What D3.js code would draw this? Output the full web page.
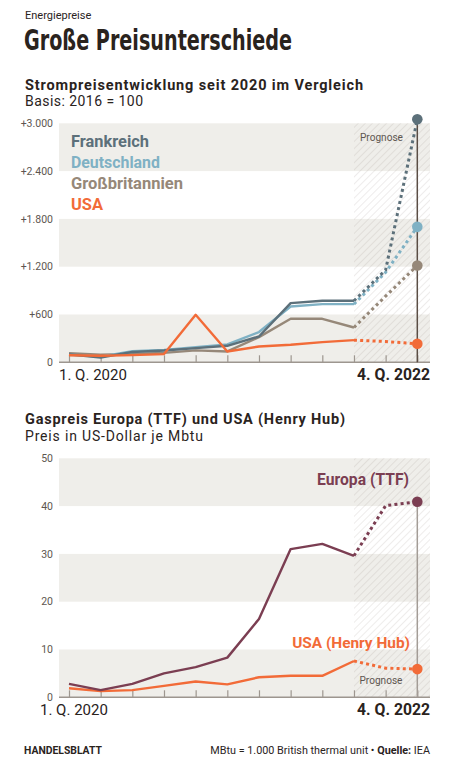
<!DOCTYPE html>
<html>
<head>
<meta charset="utf-8">
<script src="https://cdn.jsdelivr.net/npm/d3@7"></script>
<style>
  html, body { margin: 0; padding: 0; background: #fff; }
  svg { display: block; }
  text { font-family: Roboto, "Liberation Sans", sans-serif; }
</style>
</head>
<body>
<div id="chart"></div>
<script>
// ---------- DATA ----------
const quarters = ["1. Q. 2020","2. Q. 2020","3. Q. 2020","4. Q. 2020",
                  "1. Q. 2021","2. Q. 2021","3. Q. 2021","4. Q. 2021",
                  "1. Q. 2022","2. Q. 2022","3. Q. 2022","4. Q. 2022"];
const forecastFrom = "2. Q. 2022";

// Strompreise, Basis 2016 = 100
const frankreich      = [100, 60, 130, 148, 178, 207, 324, 743, 772, 772, 1160, 3050];
const deutschland     = [ 95, 72, 140, 155, 190, 225, 380, 700, 730, 730, 1130, 1700];
const grossbritannien = [115, 95, 105, 118, 150, 136, 316, 546, 546, 437,  830, 1215];
const usaStrom        = [ 88, 82,  90, 103, 596, 136, 198, 220, 253, 278,  261,  232];
const stromTicks      = [0, 600, 1200, 1800, 2400, 3000];
const stromTickLabels = ["0", "+600", "+1.200", "+1.800", "+2.400", "+3.000"];
const stromNames      = ["Frankreich", "Deutschland", "Großbritannien", "USA"];

// Gaspreise in US-Dollar je Mbtu
const europaTTF  = [2.8, 1.5, 2.8, 5.0, 6.3, 8.3, 16.4, 31.0, 32.1, 29.6, 40.1, 40.9];
const henryHub   = [1.9, 1.3, 1.5, 2.4, 3.3, 2.7,  4.2,  4.5,  4.5,  7.6,  6.1,  5.9];
const gasTicks      = [0, 10, 20, 30, 40, 50];
const gasTickLabels = ["0", "10", "20", "30", "40", "50"];
const gasNames      = ["Europa (TTF)", "USA (Henry Hub)"];

// ---------- STYLE ----------
const C = {
  text: "#2a231d", tick: "#5e5650", band: "#efeeea", axis: "#9d968f",
  fr: "#5c707a", de: "#7fb1c4", gb: "#968879", us: "#f26b38", eu: "#7b3e52"
};

const W = 457, H = 762;
const svg = d3.select("#chart").append("svg").attr("width", W).attr("height", H);

function fit(sel, w) {
  const l = sel.node().getComputedTextLength();
  sel.attr("font-size", parseFloat(sel.attr("font-size")) * w / l);
  return sel;
}

// hatch pattern
const defs = svg.append("defs");
const pat = defs.append("pattern").attr("id", "hatch").attr("patternUnits", "userSpaceOnUse")
  .attr("width", 5).attr("height", 5).attr("patternTransform", "rotate(45)");
pat.append("line").attr("x1", 0).attr("y1", 0).attr("x2", 0).attr("y2", 5)
  .attr("stroke", "rgba(140,130,120,0.15)").attr("stroke-width", 2);

// ---------- HEADER ----------
svg.append("text").attr("x", 25).attr("y", 18.5).attr("font-size", 11).attr("fill", C.text)
  .text("Energiepreise");
svg.append("text").attr("x", 24).attr("y", 50)
  .attr("font-size", 29).attr("font-weight", 700).attr("fill", C.text)
  .style("font-family", "'Liberation Sans Narrow', 'DejaVu Sans Condensed', sans-serif")
  .style("font-stretch", "condensed")
  .attr("textLength", 268).attr("lengthAdjust", "spacingAndGlyphs")
  .text("Große Preisunterschiede");

svg.append("text").attr("x", 25).attr("y", 89.5).attr("font-size", 14.5).attr("font-weight", 700)
  .attr("fill", C.text).attr("textLength", 338).attr("lengthAdjust", "spacing")
  .text("Strompreisentwicklung seit 2020 im Vergleich");
svg.append("text").attr("x", 25).attr("y", 105.5).attr("font-size", 14).attr("fill", C.text)
  .attr("textLength", 118).attr("lengthAdjust", "spacing")
  .text("Basis: 2016 = 100");

// ---------- generic chart ----------
function drawChart(opt) {
  const g = svg.append("g");
  const x = d3.scalePoint().domain(quarters).range([69, 417.3]);
  const y = d3.scaleLinear().domain([opt.ticks[0], opt.ticks[opt.ticks.length - 1]])
    .range([opt.y0, opt.y1]);
  const left = 59, right = 430;

  // bands
  for (let i = 0; i + 1 < opt.ticks.length; i += 2) {
    g.append("rect").attr("x", left).attr("width", right - left)
      .attr("y", y(opt.ticks[i + 1])).attr("height", y(opt.ticks[i]) - y(opt.ticks[i + 1]))
      .attr("fill", C.band);
  }
  // forecast hatch
  g.append("rect").attr("x", x(forecastFrom)).attr("width", right - x(forecastFrom))
    .attr("y", y.range()[1]).attr("height", y.range()[0] - y.range()[1])
    .attr("fill", "url(#hatch)");

  // y axis labels
  const ya = g.append("g").attr("transform", `translate(${left},0)`)
    .call(d3.axisLeft(y).tickValues(opt.ticks).tickSize(0).tickPadding(6)
      .tickFormat((d, i) => opt.tickLabels[i]));
  ya.select(".domain").remove();
  ya.selectAll("text").attr("fill", C.tick).attr("font-size", 10.5)
    .style("font-family", "Roboto, sans-serif").attr("dy", "0.3em");

  // x axis ticks
  const xa = g.append("g").attr("transform", `translate(0,${y(0)})`)
    .call(d3.axisBottom(x).tickSize(-7).tickFormat(""));
  xa.select(".domain").remove();
  xa.selectAll("line").attr("stroke", C.axis).attr("stroke-width", 1.2);
  g.append("line").attr("x1", left).attr("x2", right).attr("y1", y(0)).attr("y2", y(0))
    .attr("stroke", C.axis).attr("stroke-width", 1.5);

  // x labels
  fit(g.append("text").attr("x", opt.firstLabelX).attr("y", y(0) + 18).attr("font-size", 15)
    .attr("fill", C.text).text(quarters[0]), 68);
  fit(g.append("text").attr("x", right).attr("y", y(0) + 18).attr("font-size", 15)
    .attr("font-weight", 700).attr("text-anchor", "end").attr("fill", C.text)
    .text(quarters[quarters.length - 1]), 73);

  // vertical line at last quarter
  const last = quarters[quarters.length - 1];
  g.append("line").attr("x1", x(last)).attr("x2", x(last))
    .attr("y1", y(opt.vlineTop)).attr("y2", y(0))
    .attr("stroke", opt.vlineColor).attr("stroke-width", 1.5);

  const fi = quarters.indexOf(forecastFrom);
  const line = d3.line().x((d, i) => x(quarters[i])).y(d => y(d)).defined(d => d != null);
  opt.series.forEach(s => {
    const solid = s.values.map((v, i) => i <= fi ? v : null);
    const dotted = s.values.map((v, i) => i >= fi ? v : null);
    g.append("path").attr("d", line(solid)).attr("fill", "none").attr("stroke", s.color)
      .attr("stroke-width", 2.4).attr("stroke-linejoin", "round");
    g.append("path").attr("d", line(dotted)).attr("fill", "none").attr("stroke", s.color)
      .attr("stroke-width", 3).attr("stroke-dasharray", "3,3.2");
    g.append("circle").attr("cx", x(last)).attr("cy", y(s.values[s.values.length - 1]))
      .attr("r", 5.3).attr("fill", s.color);
  });

  // prognose label
  fit(g.append("text").attr("x", opt.progX).attr("y", opt.progY).attr("text-anchor", "middle")
    .attr("font-size", 10).attr("fill", C.tick).text("Prognose"), 43);
  return { x, y, g };
}

// ---------- TOP CHART ----------
const stromChart = drawChart({
  ticks: stromTicks, tickLabels: stromTickLabels, y0: 362.3, y1: 123.3,
  firstLabelX: 59, vlineTop: frankreich[11], vlineColor: "#5a4d44",
  progX: 381.5, progY: 141,
  series: [
    { values: grossbritannien, color: C.gb },
    { values: deutschland, color: C.de },
    { values: frankreich, color: C.fr },
    { values: usaStrom, color: C.us }
  ]
});

// legend
const legColors = [C.fr, C.de, C.gb, C.us];
const legWidths = [78, 89, 112, 32];
stromNames.forEach((n, i) => {
  fit(svg.append("text").attr("x", 71).attr("y", 146.5 + i * 21).attr("font-size", 14.5)
    .attr("font-weight", 700).attr("fill", legColors[i]).text(n), legWidths[i]);
});

// ---------- BOTTOM HEADER ----------
svg.append("text").attr("x", 25).attr("y", 424).attr("font-size", 14.5).attr("font-weight", 700)
  .attr("fill", C.text).attr("textLength", 320).attr("lengthAdjust", "spacing")
  .text("Gaspreis Europa (TTF) und USA (Henry Hub)");
svg.append("text").attr("x", 25).attr("y", 440.5).attr("font-size", 14).attr("fill", C.text)
  .attr("textLength", 178).attr("lengthAdjust", "spacing")
  .text("Preis in US-Dollar je Mbtu");

// ---------- BOTTOM CHART ----------
const gasChart = drawChart({
  ticks: gasTicks, tickLabels: gasTickLabels, y0: 697.3, y1: 458.3,
  firstLabelX: 40, vlineTop: europaTTF[11], vlineColor: "#a39c96",
  progX: 381, progY: 684,
  series: [
    { values: henryHub, color: C.us },
    { values: europaTTF, color: C.eu }
  ]
});
fit(svg.append("text").attr("x", 409).attr("y", 485).attr("font-size", 15).attr("font-weight", 700)
  .attr("text-anchor", "end").attr("fill", C.eu).text(gasNames[0]), 92);
fit(svg.append("text").attr("x", 410).attr("y", 648).attr("font-size", 15).attr("font-weight", 700)
  .attr("text-anchor", "end").attr("fill", C.us).text(gasNames[1]), 118);

// ---------- FOOTER ----------
fit(svg.append("text").attr("x", 24).attr("y", 754).attr("font-size", 10).attr("font-weight", 700)
  .attr("fill", C.text).text("HANDELSBLATT"), 78);
const ft = svg.append("text").attr("x", 430).attr("y", 754).attr("font-size", 10)
  .attr("text-anchor", "end").attr("fill", C.text);
ft.append("tspan").text("MBtu = 1.000 British thermal unit • ");
ft.append("tspan").attr("font-weight", 700).text("Quelle: ");
ft.append("tspan").text("IEA");
fit(ft, 220);
</script>
</body>
</html>
